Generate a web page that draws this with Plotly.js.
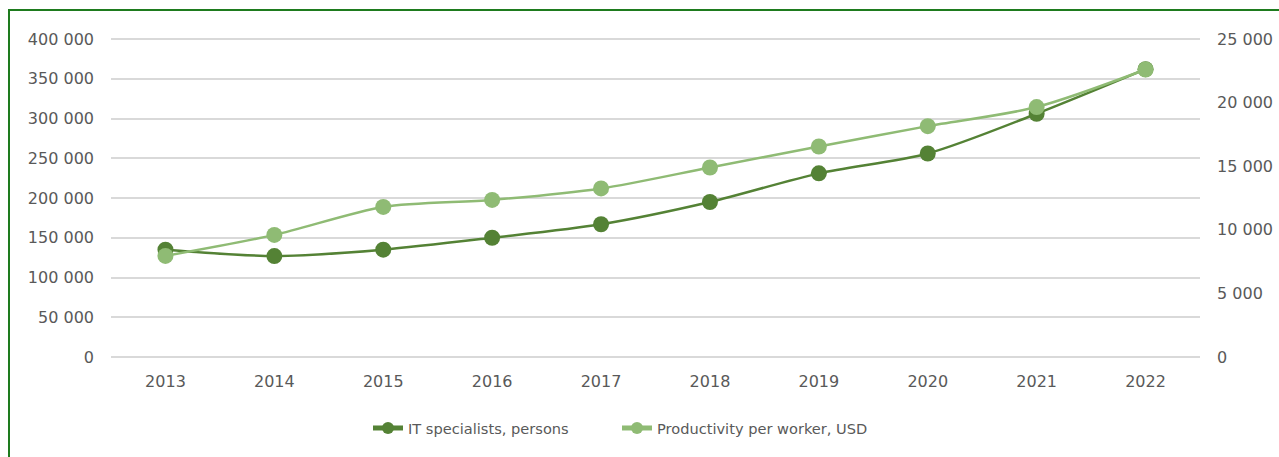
<!DOCTYPE html>
<html>
<head>
<meta charset="utf-8">
<script src="https://cdn.plot.ly/plotly-3.0.1.min.js"></script>
<style>
html,body{margin:0;padding:0;background:#fff;}
#chart{width:1279px;height:457px;}
</style>
</head>
<body>
<div id="chart"></div>
<script>
const years = ["2013","2014","2015","2016","2017","2018","2019","2020","2021","2022"];
const itSpecialists = [135000,127000,135000,150000,167000,195000,231000,256000,306000,362000];
const productivity = [7950,9600,11800,12350,13250,14900,16550,18150,19650,22600];
const seriesNames = ["IT specialists, persons","Productivity per worker, USD"];
const leftTicks = [0,50000,100000,150000,200000,250000,300000,350000,400000];
const rightTicks = [0,5000,10000,15000,20000,25000];

const darkGreen = "#548235";
const lightGreen = "#8fbb74";
const fontFam = "DejaVu Sans, Verdana, sans-serif";

// plot area: gridlines from y=39 (top) to y=357 (zero); pad 2px each side so edge gridlines are kept
const padPx = 2, spanPx = 318;
const leftMax = 400000, rightMax = 25000;
const lPad = leftMax / spanPx * padPx, rPad = rightMax / spanPx * padPx;

const traces = [
  {x: years, y: itSpecialists, name: seriesNames[0], type: "scatter", mode: "lines+markers",
   line: {color: darkGreen, width: 2.5, shape: "spline", smoothing: 0.8},
   marker: {color: darkGreen, size: 16}, yaxis: "y", cliponaxis: false, legend: "legend"},
  {x: years, y: productivity, name: seriesNames[1], type: "scatter", mode: "lines+markers",
   line: {color: lightGreen, width: 2.5, shape: "spline", smoothing: 0.8},
   marker: {color: lightGreen, size: 16}, yaxis: "y2", cliponaxis: false, legend: "legend2"}
];

const plotLeft = 111, plotW = 1089;
const plotTop = 39 - padPx, plotH = spanPx + 2 * padPx;
const py = (pix) => (plotTop + plotH - pix) / plotH; // pixel y -> paper y
const px = (pix) => (pix - plotLeft) / plotW;         // pixel x -> paper x

const legendBase = {orientation: "h", xanchor: "left", y: py(428), yanchor: "middle",
  font: {size: 14.6, color: "#595959"}, itemsizing: "constant", bgcolor: "rgba(0,0,0,0)"};

const layout = {
  width: 1279, height: 457,
  margin: {l: plotLeft, r: 1279 - plotLeft - plotW, t: plotTop, b: 457 - plotTop - plotH},
  paper_bgcolor: "#fff", plot_bgcolor: "#fff",
  separators: ". ",
  font: {family: fontFam, size: 16, color: "#595959"},
  showlegend: true,
  xaxis: {type: "category", range: [-0.5, 9.5], showgrid: false, showline: false, zeroline: false,
          ticks: "", ticklabelstandoff: 11, tickfont: {size: 16, color: "#595959"}},
  yaxis: {range: [-lPad, leftMax + lPad], tickvals: leftTicks, tickformat: ",d", showgrid: true, gridcolor: "#d9d9d9",
          gridwidth: 2, zeroline: false, showline: false, ticks: "", ticklabelstandoff: 16,
          tickfont: {size: 16, color: "#595959"}},
  yaxis2: {range: [-rPad, rightMax + rPad], tickvals: rightTicks, tickformat: ",d", overlaying: "y", side: "right",
           showgrid: false, zeroline: false, showline: false, ticks: "", ticklabelstandoff: 16,
           tickfont: {size: 16, color: "#595959"}},
  legend: Object.assign({}, legendBase, {x: px(368)}),
  legend2: Object.assign({}, legendBase, {x: px(617)}),
  shapes: [{type: "rect", xref: "paper", yref: "paper",
            x0: px(9), x1: px(1295), y0: py(480), y1: py(10),
            line: {color: "#1e7b1e", width: 2}, fillcolor: "rgba(0,0,0,0)", layer: "below"}]
};

Plotly.newPlot("chart", traces, layout, {displayModeBar: false, staticPlot: true});
</script>
</body>
</html>
